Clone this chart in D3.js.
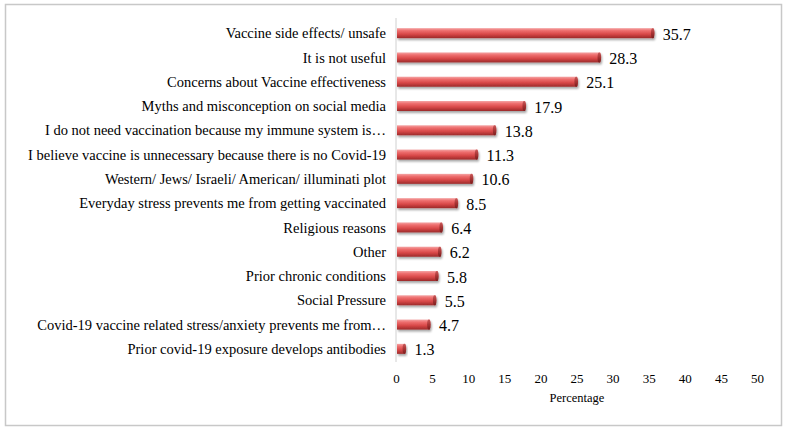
<!DOCTYPE html>
<html><head><meta charset="utf-8">
<script src="https://cdn.jsdelivr.net/npm/d3@7"></script>
<style>body{margin:0;background:#fff}svg{display:block}</style>
</head><body>
<script>
const categories = [
  "Vaccine side effects/ unsafe",
  "It is not useful",
  "Concerns about Vaccine effectiveness",
  "Myths and misconception on social media",
  "I do not need vaccination because my immune system is…",
  "I believe vaccine is unnecessary because there is no Covid-19",
  "Western/ Jews/ Israeli/ American/ illuminati plot",
  "Everyday stress prevents me from getting vaccinated",
  "Religious reasons",
  "Other",
  "Prior chronic conditions",
  "Social Pressure",
  "Covid-19 vaccine related stress/anxiety prevents me from…",
  "Prior covid-19 exposure develops antibodies"
];
const values = [35.7, 28.3, 25.1, 17.9, 13.8, 11.3, 10.6, 8.5, 6.4, 6.2, 5.8, 5.5, 4.7, 1.3];
const xTicks = [0, 5, 10, 15, 20, 25, 30, 35, 40, 45, 50];
const xTitle = "Percentage";

const W = 785, H = 431;
const svg = d3.select("body").append("svg").attr("width", W).attr("height", H);
const font = "'Liberation Serif', 'Times New Roman', serif";

svg.append("rect").attr("x", 5.5).attr("y", 4.5).attr("width", 776).attr("height", 421)
  .attr("fill", "#fff").attr("stroke", "#c8c8c8").attr("stroke-width", 1.5);

const x = d3.scaleLinear().domain([0, 50]).range([396, 757]);
const y = d3.scaleBand().domain(categories).range([21, 361]);

const defs = svg.append("defs");
const g = defs.append("linearGradient").attr("id", "barGrad").attr("x1", 0).attr("y1", 0).attr("x2", 0).attr("y2", 1);
[[0, "#f4a5a5"], [0.25, "#ee6e6e"], [0.6, "#d84848"], [1, "#9c2a2a"]].forEach(([o, c]) =>
  g.append("stop").attr("offset", o).attr("stop-color", c));
const gc = defs.append("linearGradient").attr("id", "capGrad").attr("x1", 0).attr("y1", 0).attr("x2", 0).attr("y2", 1);
[[0, "#c85a5a"], [0.5, "#a83434"], [1, "#7a1e1e"]].forEach(([o, c]) =>
  gc.append("stop").attr("offset", o).attr("stop-color", c));
const f = defs.append("filter").attr("id", "shadow").attr("x", "-5%").attr("y", "-50%").attr("width", "115%").attr("height", "250%");
f.append("feGaussianBlur").attr("in", "SourceAlpha").attr("stdDeviation", 1.2).attr("result", "b");
f.append("feOffset").attr("in", "b").attr("dx", 1).attr("dy", 2).attr("result", "o");
f.append("feComponentTransfer").attr("in", "o").attr("result", "oc")
  .append("feFuncA").attr("type", "linear").attr("slope", 0.35);
const fm = f.append("feMerge");
fm.append("feMergeNode").attr("in", "oc");
fm.append("feMergeNode").attr("in", "SourceGraphic");

const barH = 10;
const bars = svg.append("g").selectAll("g").data(categories).join("g")
  .attr("filter", "url(#shadow)");
bars.append("rect")
  .attr("x", x(0) + 1)
  .attr("y", d => y(d) + y.bandwidth() / 2 - barH / 2)
  .attr("width", (d, i) => Math.max(0, x(values[i]) - x(0) - 1))
  .attr("height", barH)
  .attr("fill", "url(#barGrad)");
bars.append("ellipse")
  .attr("cx", (d, i) => x(values[i]) - 1)
  .attr("cy", d => y(d) + y.bandwidth() / 2)
  .attr("rx", 1.8).attr("ry", barH / 2)
  .attr("fill", "url(#capGrad)");

// axis line
svg.append("line").attr("x1", x(0)).attr("x2", x(0)).attr("y1", 18).attr("y2", 362)
  .attr("stroke", "#d0d0d0").attr("stroke-width", 1);

// category labels
svg.append("g").selectAll("text").data(categories).join("text")
  .attr("x", 386).attr("y", d => y(d) + y.bandwidth() / 2)
  .attr("dy", "0.35em").attr("text-anchor", "end")
  .attr("font-family", font).attr("font-size", 14.5).attr("fill", "#000")
  .text(d => d);

// value labels
svg.append("g").selectAll("text").data(categories).join("text")
  .attr("x", (d, i) => x(values[i]) + 9).attr("y", d => y(d) + y.bandwidth() / 2 + 1)
  .attr("dy", "0.35em")
  .attr("font-family", font).attr("font-size", 16).attr("fill", "#000")
  .text((d, i) => values[i].toFixed(1));

// x axis tick labels
const xa = svg.append("g").attr("transform", "translate(0,374)")
  .call(d3.axisBottom(x).tickValues(xTicks).tickSize(0).tickPadding(0).tickFormat(d3.format("d")));
xa.select(".domain").remove();
xa.selectAll("text").attr("font-family", font).attr("font-size", 13).attr("fill", "#000");

svg.append("text").attr("x", 577).attr("y", 402).attr("text-anchor", "middle")
  .attr("font-family", font).attr("font-size", 12.5).attr("fill", "#000").text(xTitle);
</script>
</body></html>
